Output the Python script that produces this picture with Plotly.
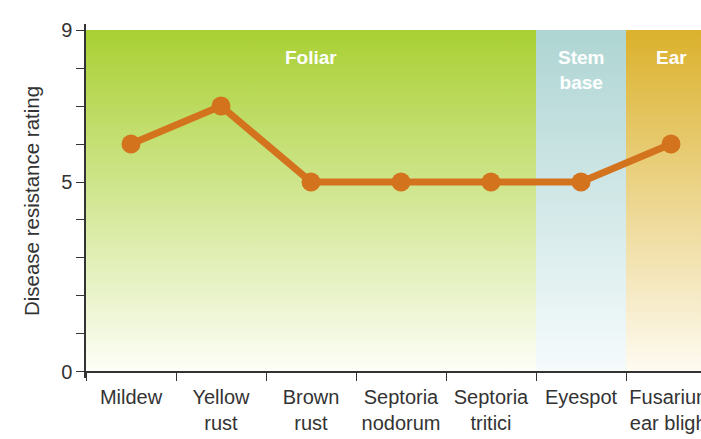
import plotly.graph_objects as go

categories = ["Mildew", "Yellow<br>rust", "Brown<br>rust", "Septoria<br>nodorum",
              "Septoria<br>tritici", "Eyespot", "Fusarium<br>ear blight"]
ratings = [6, 7, 5, 5, 5, 5, 6]

band_names = ["Foliar", "Stem<br>base", "Ear"]
band_start = [0, 5, 6]          # first category index in each band
band_end = [4, 5, 6]            # last category index in each band
band_top = ["#a9d033", "#aed5d3", "#dbb12c"]
band_bottom = ["#fdfef7", "#f6fbfc", "#fefbf2"]

y_ticks = [0, 5, 9]
y_minor = [1, 2, 3, 4, 6, 7, 8]

xpos = list(range(len(categories)))
ymin, ymax = 0, 9
pad = 0.16

fig = go.Figure()

for name, s, e, ct, cb in zip(band_names, band_start, band_end, band_top, band_bottom):
    x0, x1 = s - 0.5, e + 0.5
    fig.add_trace(go.Scatter(
        x=[x0, x1, x1, x0, x0], y=[ymin, ymin, ymax, ymax, ymin],
        mode="lines", line=dict(width=0), fill="toself",
        fillgradient=dict(type="vertical", colorscale=[[0, cb], [1, ct]]),
        hoverinfo="skip", showlegend=False))
    fig.add_annotation(x=(x0 + x1) / 2, y=8.6, xref="x", yref="y",
                       text=f"<b>{name}</b>", showarrow=False, yanchor="top",
                       font=dict(family="Liberation Sans, Arial, sans-serif", size=19, color="white"))

fig.add_trace(go.Scatter(
    x=xpos, y=ratings, mode="lines+markers",
    line=dict(color="#d4731e", width=7),
    marker=dict(color="#d4731e", size=19),
    showlegend=False, hoverinfo="skip"))

axis_color = "#333333"
font = dict(family="Liberation Sans, Arial, sans-serif", size=20, color="#333333")
title_font = dict(family="Liberation Sans, Arial, sans-serif", size=20.5, color="#333333")

fig.update_layout(
    width=701, height=439,
    margin=dict(l=86, r=0, t=24, b=61),
    paper_bgcolor="white", plot_bgcolor="white",
    font=font,
    xaxis=dict(
        range=[-0.5, 6.5 - 15 / 90], tickmode="array", tickvals=xpos, ticktext=categories,
        ticks="", showgrid=False, zeroline=False, automargin=False,
        ticklabeloverflow="allow", ticklabelstandoff=7,
        showline=True, linecolor=axis_color, linewidth=1.5,
        anchor="free", position=pad / (ymax - ymin + 2 * pad),
        minor=dict(tickmode="array", tickvals=[i + 0.5 for i in range(-1, 7)],
                   ticks="outside", ticklen=8, tickcolor=axis_color, tickwidth=1.3, showgrid=False),
        tickfont=font, fixedrange=True),
    yaxis=dict(
        range=[ymin - pad, ymax + pad], tickmode="array", tickvals=y_ticks,
        ticks="outside", ticklen=8, tickcolor=axis_color, tickwidth=1.3,
        showgrid=False, zeroline=False, automargin=False,
        showline=True, linecolor=axis_color, linewidth=1.5,
        minor=dict(tickmode="array", tickvals=y_minor, ticks="outside", ticklen=8,
                   tickcolor=axis_color, tickwidth=1.3, showgrid=False),
        title=dict(text="Disease resistance rating", font=title_font, standoff=16),
        tickfont=font, fixedrange=True),
    hovermode=False,
)

fig.write_html("out.html", config={"displayModeBar": False},
               post_script="document.body.style.margin='0';document.body.style.overflow='hidden';")
